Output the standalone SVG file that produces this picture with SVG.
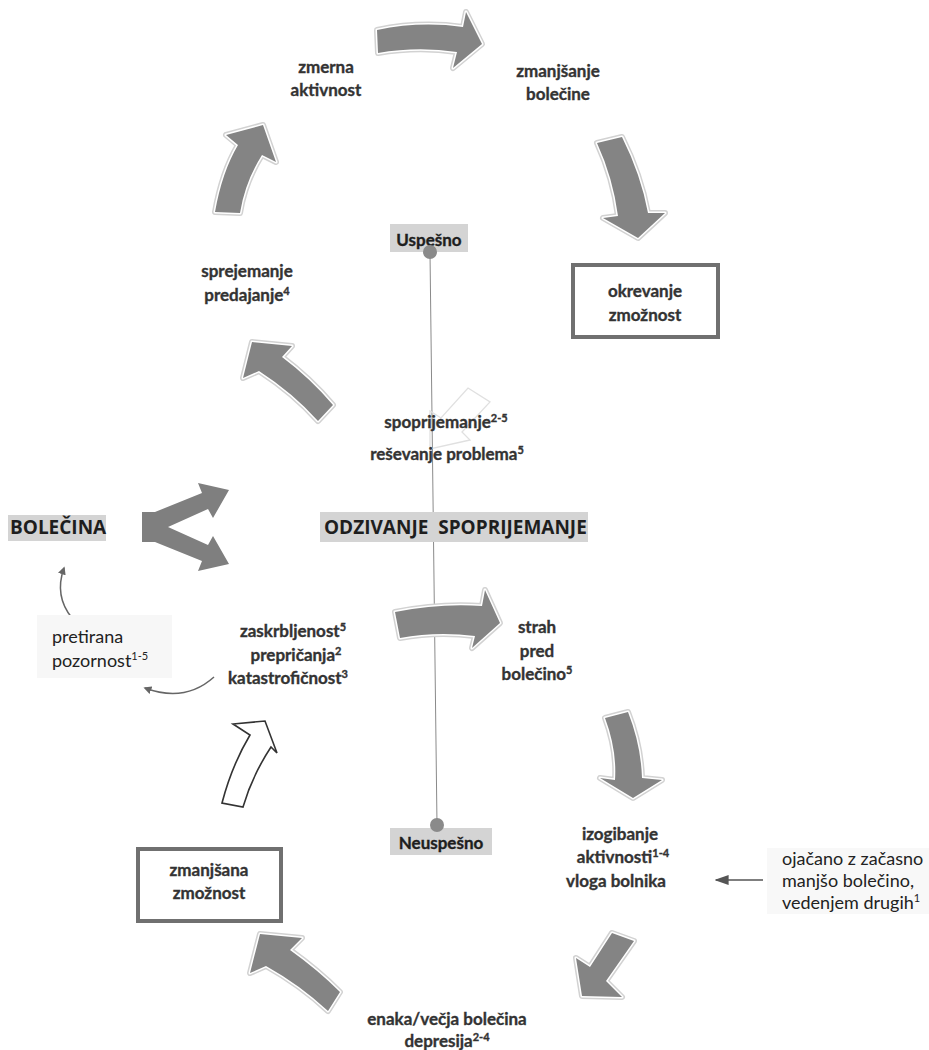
<svg xmlns="http://www.w3.org/2000/svg" xmlns:xlink="http://www.w3.org/1999/xlink" width="929" height="1050" viewBox="0 0 929 1050">
<defs>
<style>
.lbl{font-family:Lato,"Liberation Sans",sans-serif;font-weight:700;font-size:17px;fill:#333;stroke:#333;stroke-width:0.35;text-anchor:middle}
.sup{font-size:11px}
.big{font-family:"Open Sans","Liberation Sans",sans-serif;font-weight:700;font-size:19px;fill:#1e1e1e}
.note{font-family:Lato,"Liberation Sans",sans-serif;font-weight:400;font-size:18px;fill:#222}
.tag{fill:#d4d4d4}
.box{fill:#fff;stroke:#707070;stroke-width:4}
.arr-o{fill:none;stroke:#d2d2d2;stroke-width:6;stroke-linejoin:round}
.arr-w{fill:none;stroke:#fff;stroke-width:3;stroke-linejoin:round}
.arr{fill:#848484}
.thin{fill:none;stroke:#666;stroke-width:1.5}
</style>
<marker id="head" viewBox="0 0 10 10" refX="8" refY="5" markerWidth="8" markerHeight="8" orient="auto" markerUnits="userSpaceOnUse">
<path d="M0,0 L10,5 L0,10 Z" fill="#666"/>
</marker>
<marker id="head2" viewBox="0 0 10 10" refX="9" refY="5" markerWidth="14" markerHeight="14" orient="auto" markerUnits="userSpaceOnUse">
<path d="M0,1.5 L10,5 L0,8.5 Z" fill="#555"/>
</marker>
<path id="aTop" d="M377,30 Q420,21 463,27 L466,12 L482,44 L453,68 L457,52 Q418,46 378,53 Z"/>
<path id="aRightDown1" d="M597,143 L622,137 Q641,175 648,213 L665,213 L638,238 L603,218 L618,216 Q613,178 597,143 Z"/>
<path id="aUpLeft1" d="M215,212 Q222,172 238,145 L226,135 L263,125 L276,162 L262,155 Q245,182 240,213 Z"/>
<path id="aNW1" d="M252,342 L292,346 L282,357 Q310,378 333,405 L318,421 Q293,393 259,371 L243,378 Z"/>
<path id="aMid" d="M395,612 Q440,603 482,606 L485,590 L500,623 L472,648 L475,636 Q437,631 400,638 Z"/>
<path id="aRightDown2" d="M605,718 L628,712 Q641,745 642,778 L662,780 L633,798 L600,778 L615,780 Q617,750 605,718 Z"/>
<path id="aSW" d="M612,933 L634,941 L606,981 L622,997 L582,996 L576,958 L590,967 Z"/>
<path id="aNW2" d="M260,934 L302,938 L290,950 Q318,970 340,992 L328,1011 Q300,985 266,966 L250,973 Z"/>
</defs>
<rect width="929" height="1050" fill="#fff"/>

<g id="connectors">
  <line x1="430" y1="252" x2="437" y2="825" stroke="#8a8a8a" stroke-width="1"/>
  <path d="M468,388 L490,402 L462,432 L470,440 L430,449 L430,411 L441,418 Z" fill="none" stroke="#e0e0e0" stroke-width="1.3"/>
  <g>
    <use xlink:href="#aTop" class="arr-o"/><use xlink:href="#aTop" class="arr-w"/><use xlink:href="#aTop" class="arr"/>
    <use xlink:href="#aRightDown1" class="arr-o"/><use xlink:href="#aRightDown1" class="arr-w"/><use xlink:href="#aRightDown1" class="arr"/>
    <use xlink:href="#aUpLeft1" class="arr-o"/><use xlink:href="#aUpLeft1" class="arr-w"/><use xlink:href="#aUpLeft1" class="arr"/>
    <use xlink:href="#aNW1" class="arr-o"/><use xlink:href="#aNW1" class="arr-w"/><use xlink:href="#aNW1" class="arr"/>
    <use xlink:href="#aMid" class="arr-o"/><use xlink:href="#aMid" class="arr-w"/><use xlink:href="#aMid" class="arr"/>
    <use xlink:href="#aRightDown2" class="arr-o"/><use xlink:href="#aRightDown2" class="arr-w"/><use xlink:href="#aRightDown2" class="arr"/>
    <use xlink:href="#aSW" class="arr-o"/><use xlink:href="#aSW" class="arr-w"/><use xlink:href="#aSW" class="arr"/>
    <use xlink:href="#aNW2" class="arr-o"/><use xlink:href="#aNW2" class="arr-w"/><use xlink:href="#aNW2" class="arr"/>
  </g>
  <path d="M222,803 Q232,765 250,735 L233,724 L265,721 L277,753 L271,747 Q252,776 243,807 Z" fill="#fff" stroke="#333" stroke-width="1.6" stroke-linejoin="miter"/>
  <path d="M142,512 L155,512 L202,493 L198,483 L229,490 L213,518 L208,509 L168,527 L208,545 L213,536 L229,564 L198,571 L202,561 L155,542 L142,542 Z" fill="#7f7f7f"/>
  <path class="thin" d="M72,618 Q54,596 64,568" marker-end="url(#head)"/>
  <path class="thin" d="M214,677 Q185,703 145,688" marker-end="url(#head)"/>
  <line x1="763" y1="880" x2="716" y2="880" stroke="#555" stroke-width="1.5" marker-end="url(#head2)"/>
</g>

<g id="n-zmerna"><text class="lbl" x="326" y="73">zmerna</text><text class="lbl" x="326" y="96">aktivnost</text></g>
<g id="n-zmanjsanje"><text class="lbl" x="558" y="77">zmanjšanje</text><text class="lbl" x="558" y="100">bolečine</text></g>
<g id="n-okrevanje"><rect class="box" x="573" y="265" width="145" height="72"/><text class="lbl" x="645" y="297">okrevanje</text><text class="lbl" x="645" y="321">zmožnost</text></g>
<g id="n-uspesno"><rect class="tag" x="390" y="224" width="78" height="28"/><text class="lbl" x="429" y="246" style="fill:#1e1e1e;stroke:#1e1e1e">Uspešno</text><circle cx="430" cy="252" r="7" fill="#8a8a8a"/></g>
<g id="n-sprejemanje"><text class="lbl" x="247" y="277">sprejemanje</text><text class="lbl" x="247" y="301">predajanje<tspan class="sup" dy="-6">4</tspan></text></g>
<g id="n-spoprijemanje"><text class="lbl" x="446" y="428">spoprijemanje<tspan class="sup" dy="-6">2-5</tspan></text><text class="lbl" x="447" y="460">reševanje problema<tspan class="sup" dy="-6">5</tspan></text></g>
<g id="n-odzivanje"><rect class="tag" x="320" y="512" width="268" height="30"/><text class="big" x="324" y="534" xml:space="preserve">ODZIVANJE  SPOPRIJEMANJE</text></g>
<g id="n-bolecina"><rect class="tag" x="8" y="515" width="98" height="26"/><text class="big" x="10" y="534">BOLEČINA</text></g>
<g id="n-zaskrbljenost"><text class="lbl" x="293" y="637">zaskrbljenost<tspan class="sup" dy="-6">5</tspan></text><text class="lbl" x="296" y="661">prepričanja<tspan class="sup" dy="-6">2</tspan></text><text class="lbl" x="288" y="684">katastrofičnost<tspan class="sup" dy="-6">3</tspan></text></g>
<g id="n-pretirana"><rect x="37" y="615" width="135" height="63" fill="#f7f7f7"/><text class="note" x="52" y="643">pretirana</text><text class="note" x="52" y="667">pozornost<tspan class="sup" dy="-7">1-5</tspan></text></g>
<g id="n-strah"><text class="lbl" x="537" y="633">strah</text><text class="lbl" x="537" y="657">pred</text><text class="lbl" x="537" y="680">bolečino<tspan class="sup" dy="-6">5</tspan></text></g>
<g id="n-neuspesno"><rect class="tag" x="390" y="828" width="102" height="27"/><text class="lbl" x="441" y="849" style="fill:#1e1e1e;stroke:#1e1e1e">Neuspešno</text><circle cx="437" cy="825" r="7" fill="#8a8a8a"/></g>
<g id="n-izogibanje"><text class="lbl" x="620" y="840">izogibanje</text><text class="lbl" x="623" y="863">aktivnosti<tspan class="sup" dy="-6">1-4</tspan></text><text class="lbl" x="616" y="887">vloga bolnika</text></g>
<g id="n-ojacano"><rect x="767" y="848" width="162" height="66" fill="#f8f8f8"/><text class="note" x="782" y="865">ojačano z začasno</text><text class="note" x="782" y="887">manjšo bolečino,</text><text class="note" x="782" y="909">vedenjem drugih<tspan class="sup" dy="-7">1</tspan></text></g>
<g id="n-zmanjsana"><rect class="box" x="138" y="849" width="143" height="72"/><text class="lbl" x="209" y="876">zmanjšana</text><text class="lbl" x="209" y="899">zmožnost</text></g>
<g id="n-enaka"><text class="lbl" x="447" y="1025">enaka/večja bolečina</text><text class="lbl" x="447" y="1047">depresija<tspan class="sup" dy="-6">2-4</tspan></text></g>
</svg>
